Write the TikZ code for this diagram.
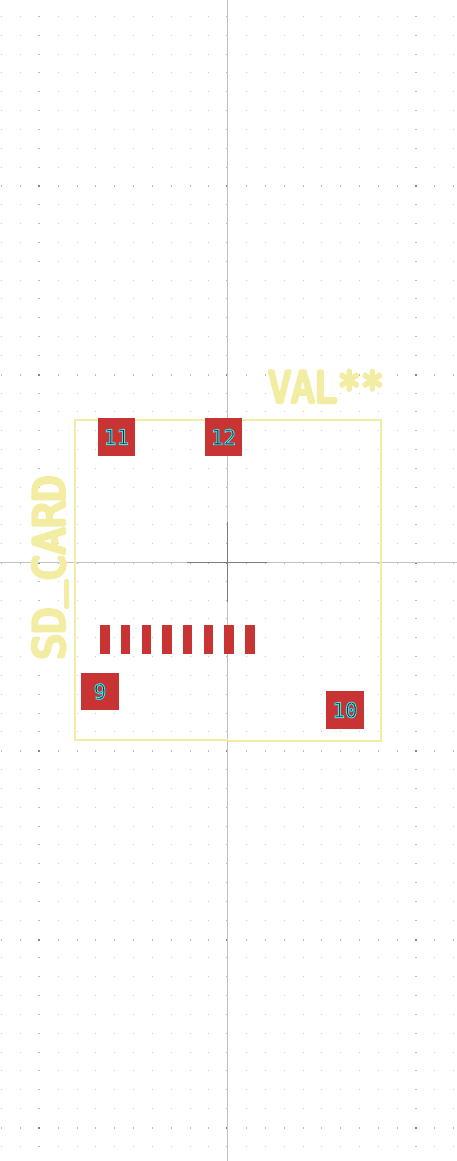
\documentclass[tikz,border=0pt]{standalone}
\usepackage{fontspec}
\setmainfont{DejaVu Sans Mono}
\definecolor{silk}{RGB}{243,237,163}
\definecolor{padred}{RGB}{200,52,52}
\definecolor{axisgray}{RGB}{195,195,195}
\definecolor{crossgray}{RGB}{125,125,125}
\definecolor{labeldark}{RGB}{30,40,60}
\newcommand{\padtxt}[1]{\special{pdf:code 2 Tr 0.9 w 0.24 0.91 0.91 RG}#1\special{pdf:code 0 Tr}}
\newcommand{\silktxt}[1]{\special{pdf:code 2 Tr 3.4 w 1 J 1 j 0.953 0.929 0.639 RG}#1\special{pdf:code 0 Tr}}
\tikzset{
  padbox/.style={fill=padred,draw=none,inner sep=0pt,outer sep=0pt,text=labeldark,font=\fontsize{21}{21}\selectfont},
  bigpad/.style={padbox,minimum width=37.5pt,minimum height=37.5pt},
  smallpad/.style={padbox,minimum width=9.6pt,minimum height=29pt},
  silktext/.style={text=silk,inner sep=0pt,outer sep=0pt,anchor=base,font=\fontsize{43}{43}\selectfont},
  silkline/.style={draw=silk,line width=2pt}
}
\begin{document}
\begin{tikzpicture}[x=1pt,y=-1pt]
\useasboundingbox[fill=white] (0,0) rectangle (457,1161);
% grid dots
\foreach \i in {-12,...,12}{
  \foreach \j in {-29,...,31}{
    \pgfmathsetmacro{\px}{round(227.3+18.83*\i)}
    \pgfmathsetmacro{\py}{round(562+18.83*\j)}
    \pgfmathtruncatemacro{\mi}{mod(\i+20,10)==0}
    \pgfmathtruncatemacro{\mj}{mod(\j+30,10)==0}
    \ifnum\mi=1
      \ifnum\mj=1
        \fill[black!48] (\px-1,\py) rectangle (\px+1,\py+2);
      \else
        \fill[black!28] (\px-1,\py) rectangle (\px+1,\py+1);
      \fi
    \else
      \ifnum\mj=1
        \fill[black!28] (\px,\py) rectangle (\px+1,\py+2);
      \else
        \fill[black!20] (\px,\py) rectangle (\px+1,\py+1);
      \fi
    \fi
  }
}
% axes
\coordinate (axL) at (0,562.5);
\coordinate (axR) at (457,562.5);
\coordinate (axT) at (227.5,0);
\coordinate (axB) at (227.5,1161);
\draw[axisgray,line width=1pt] (axL) -- (axR);
\draw[axisgray,line width=1pt] (axT) -- (axB);
\coordinate (crL) at (187,562.5);
\coordinate (crR) at (267,562.5);
\coordinate (crT) at (227.5,522);
\coordinate (crB) at (227.5,602);
\draw[crossgray,line width=1pt] (crL) -- (crR);
\draw[crossgray,line width=1pt] (crT) -- (crB);
% outline
\draw[silkline,line join=miter] (227.5,740) -- (75,740) -- (75,420) -- (381,420) -- (381,741) -- (227.5,741);
% big pads
\node[bigpad] (p11) at (116.5,437) {\padtxt{11}};
\node[bigpad] (p12) at (223.5,437) {\padtxt{12}};
\node[bigpad] (p9) at (100,691.5) {\padtxt{9}};
\node[bigpad] (p10) at (345,710) {\padtxt{10}};
% small pads
\foreach \n/\cx in {1/105,2/125.6,3/146.5,4/167,5/187.6,6/208.6,7/229,8/250}{
  \node[smallpad] (s\n) at (\cx,639.5) {};
}
% silk texts
\node[silktext,xscale=0.895] (val) at (326,402.3) {\silktxt{VAL**}};
\node[silktext,rotate=90,xscale=1.02] (ref) at (64.3,567.5) {\silktxt{SD\raisebox{7pt}{\_}CARD}};
\end{tikzpicture}
\end{document}
